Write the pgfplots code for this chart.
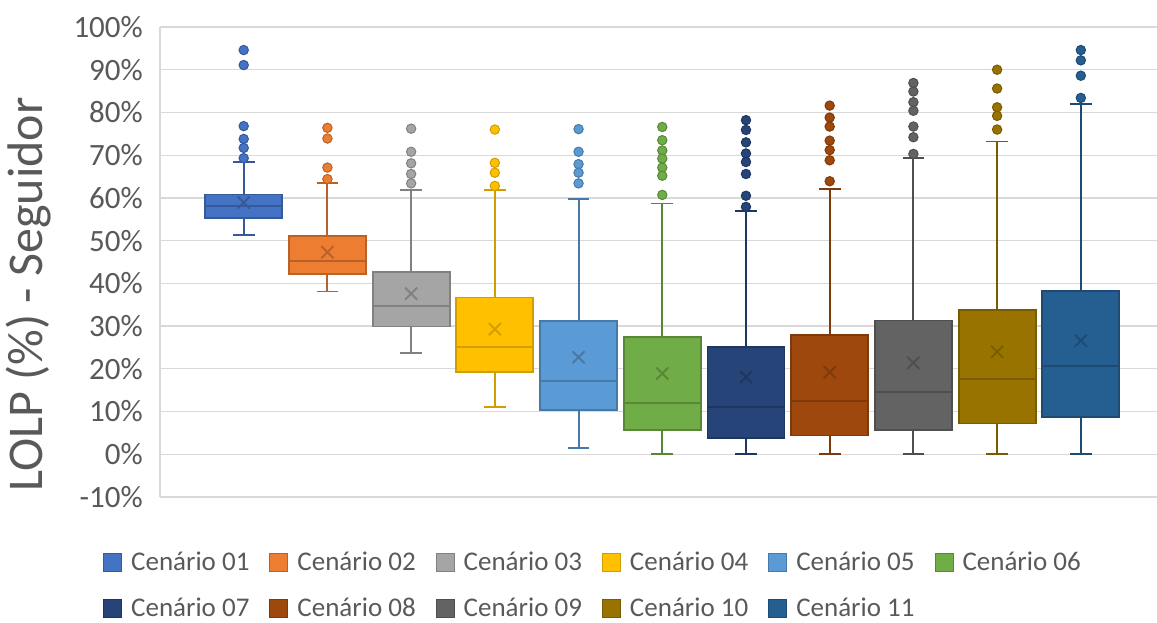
\documentclass[border=0pt]{standalone}
\usepackage{fontspec}
\setmainfont{Carlito}
\usepackage{pgfplots}
\pgfplotsset{compat=1.18}
\usepgfplotslibrary{statistics}
\definecolor{c1}{HTML}{4472C4}
\definecolor{c2}{HTML}{ED7D31}
\definecolor{c3}{HTML}{A5A5A5}
\definecolor{c4}{HTML}{FFC000}
\definecolor{c5}{HTML}{5B9BD5}
\definecolor{c6}{HTML}{70AD47}
\definecolor{c7}{HTML}{264478}
\definecolor{c8}{HTML}{9E480E}
\definecolor{c9}{HTML}{636363}
\definecolor{c10}{HTML}{997300}
\definecolor{c11}{HTML}{255E91}
\colorlet{c1d}{c1!78!black}
\colorlet{c2d}{c2!78!black}
\colorlet{c3d}{c3!78!black}
\colorlet{c4d}{c4!82!black}
\colorlet{c5d}{c5!78!black}
\colorlet{c6d}{c6!78!black}
\colorlet{c7d}{c7!80!black}
\colorlet{c8d}{c8!80!black}
\colorlet{c9d}{c9!80!black}
\colorlet{c10d}{c10!80!black}
\colorlet{c11d}{c11!80!black}
\definecolor{gridgray}{HTML}{D9D9D9}
\definecolor{textgray}{HTML}{595959}
\pgfplotsset{
  bx/.style n args={2}{
    forget plot, fill=#1, draw=#2, line width=1.9pt, mark=*, mark size=4.7pt,
    mark options={fill=#1, draw=#2, line width=1pt, solid},
    boxplot/every average/.style={/tikz/mark=x, /tikz/mark size=8.5pt, draw=#2, line width=1.6pt},
  },
}
\begin{document}
\begin{tikzpicture}
\begin{axis}[
  at={(0,0)}, anchor=south west,
  width=997pt, height=470pt, scale only axis,
  xmin=0, xmax=11.91, ymin=-10, ymax=100,
  xtick=\empty,
  ytick={-10,0,10,20,30,40,50,60,70,80,90,100},
  yticklabels={-10\%,0\%,10\%,20\%,30\%,40\%,50\%,60\%,70\%,80\%,90\%,100\%},
  yticklabel style={font=\fontsize{31}{34}\selectfont, text=textgray, inner sep=0pt, anchor=east, xshift=-17pt},
  ymajorgrids, grid style={line width=1.3pt, draw=gridgray},
  major tick length=0pt,
  axis lines*=left, axis line style={-, draw=gridgray, line width=1.3pt},
  ylabel={LOLP (\%) - Seguidor},
  ylabel style={at={(axis description cs:-0.1314,0.431)}, anchor=center, font=\fontsize{50}{56}\selectfont, text=textgray},
  clip=false,
  boxplot/draw direction=y,
  boxplot/box extend=0.92,
  boxplot/whisker extend=0.26,
  legend columns=6,
  legend image code/.code={\draw[#1] (0pt,-9pt) rectangle (18pt,9pt); \path (27pt,0pt);},
  legend style={draw=none, fill=none, at={(axis description cs:-0.0602,-0.1128)}, anchor=north west,
    font=\fontsize{27}{31}\selectfont, text=textgray, nodes={inner sep=0pt},
    /tikz/every even column/.append style={column sep=20pt}, row sep=26pt},
]
\addlegendimage{fill=c1, draw=c1d, line width=1pt}\addlegendentry{Cenário 01}
\addlegendimage{fill=c2, draw=c2d, line width=1pt}\addlegendentry{Cenário 02}
\addlegendimage{fill=c3, draw=c3d, line width=1pt}\addlegendentry{Cenário 03}
\addlegendimage{fill=c4, draw=c4d, line width=1pt}\addlegendentry{Cenário 04}
\addlegendimage{fill=c5, draw=c5d, line width=1pt}\addlegendentry{Cenário 05}
\addlegendimage{fill=c6, draw=c6d, line width=1pt}\addlegendentry{Cenário 06}
\addlegendimage{fill=c7, draw=c7d, line width=1pt}\addlegendentry{Cenário 07}
\addlegendimage{fill=c8, draw=c8d, line width=1pt}\addlegendentry{Cenário 08}
\addlegendimage{fill=c9, draw=c9d, line width=1pt}\addlegendentry{Cenário 09}
\addlegendimage{fill=c10, draw=c10d, line width=1pt}\addlegendentry{Cenário 10}
\addlegendimage{fill=c11, draw=c11d, line width=1pt}\addlegendentry{Cenário 11}

\addplot[bx={c1}{c1d}, boxplot prepared={draw position=1, lower whisker=51.3, lower quartile=55.4, median=58.1, upper quartile=60.8, upper whisker=68.5, average=58.9}]
  coordinates {(0,94.6) (0,91.1) (0,76.8) (0,73.8) (0,71.7) (0,69.3)};
\addplot[bx={c2}{c2d}, boxplot prepared={draw position=2, lower whisker=38.1, lower quartile=42.1, median=45.3, upper quartile=51.0, upper whisker=63.4, average=47.3}]
  coordinates {(0,76.4) (0,73.9) (0,67.1) (0,64.4)};
\addplot[bx={c3}{c3d}, boxplot prepared={draw position=3, lower whisker=23.6, lower quartile=29.9, median=34.6, upper quartile=42.7, upper whisker=61.9, average=37.6}]
  coordinates {(0,76.2) (0,70.8) (0,68.1) (0,65.6) (0,63.4)};
\addplot[bx={c4}{c4d}, boxplot prepared={draw position=4, lower whisker=11.0, lower quartile=19.3, median=25.2, upper quartile=36.7, upper whisker=61.9, average=29.3}]
  coordinates {(0,76.0) (0,68.2) (0,65.9) (0,62.8)};
\addplot[bx={c5}{c5d}, boxplot prepared={draw position=5, lower whisker=1.4, lower quartile=10.4, median=17.1, upper quartile=31.1, upper whisker=59.8, average=22.7}]
  coordinates {(0,76.1) (0,70.8) (0,67.9) (0,65.9) (0,63.4)};
\addplot[bx={c6}{c6d}, boxplot prepared={draw position=6, lower whisker=0, lower quartile=5.6, median=12.1, upper quartile=27.4, upper whisker=58.7, average=18.9}]
  coordinates {(0,76.6) (0,73.5) (0,71.1) (0,69.2) (0,67.1) (0,65.2) (0,60.7)};
\addplot[bx={c7}{c7d}, boxplot prepared={draw position=7, lower whisker=0, lower quartile=3.8, median=11.0, upper quartile=25.2, upper whisker=57.0, average=18.1}]
  coordinates {(0,78.2) (0,75.9) (0,73.0) (0,70.4) (0,68.4) (0,65.6) (0,60.5) (0,57.9)};
\addplot[bx={c8}{c8d}, boxplot prepared={draw position=8, lower whisker=0, lower quartile=4.4, median=12.5, upper quartile=28.0, upper whisker=62.0, average=19.2}]
  coordinates {(0,81.6) (0,78.8) (0,76.7) (0,73.4) (0,71.2) (0,68.8) (0,63.9)};
\addplot[bx={c9}{c9d}, boxplot prepared={draw position=9, lower whisker=0, lower quartile=5.6, median=14.6, upper quartile=31.3, upper whisker=69.3, average=21.4}]
  coordinates {(0,86.9) (0,84.9) (0,82.4) (0,80.4) (0,76.7) (0,74.2) (0,70.3)};
\addplot[bx={c10}{c10d}, boxplot prepared={draw position=10, lower whisker=0, lower quartile=7.2, median=17.6, upper quartile=33.7, upper whisker=73.2, average=24.0}]
  coordinates {(0,90.0) (0,85.6) (0,81.2) (0,79.2) (0,76.0)};
\addplot[bx={c11}{c11d}, boxplot prepared={draw position=11, lower whisker=0, lower quartile=8.8, median=20.6, upper quartile=38.3, upper whisker=81.9, average=26.6}]
  coordinates {(0,94.6) (0,92.2) (0,88.6) (0,83.4)};
\end{axis}
\pgfresetboundingbox
\path[use as bounding box] (-160pt,-125pt) rectangle (997pt,497pt);
\end{tikzpicture}
\end{document}
